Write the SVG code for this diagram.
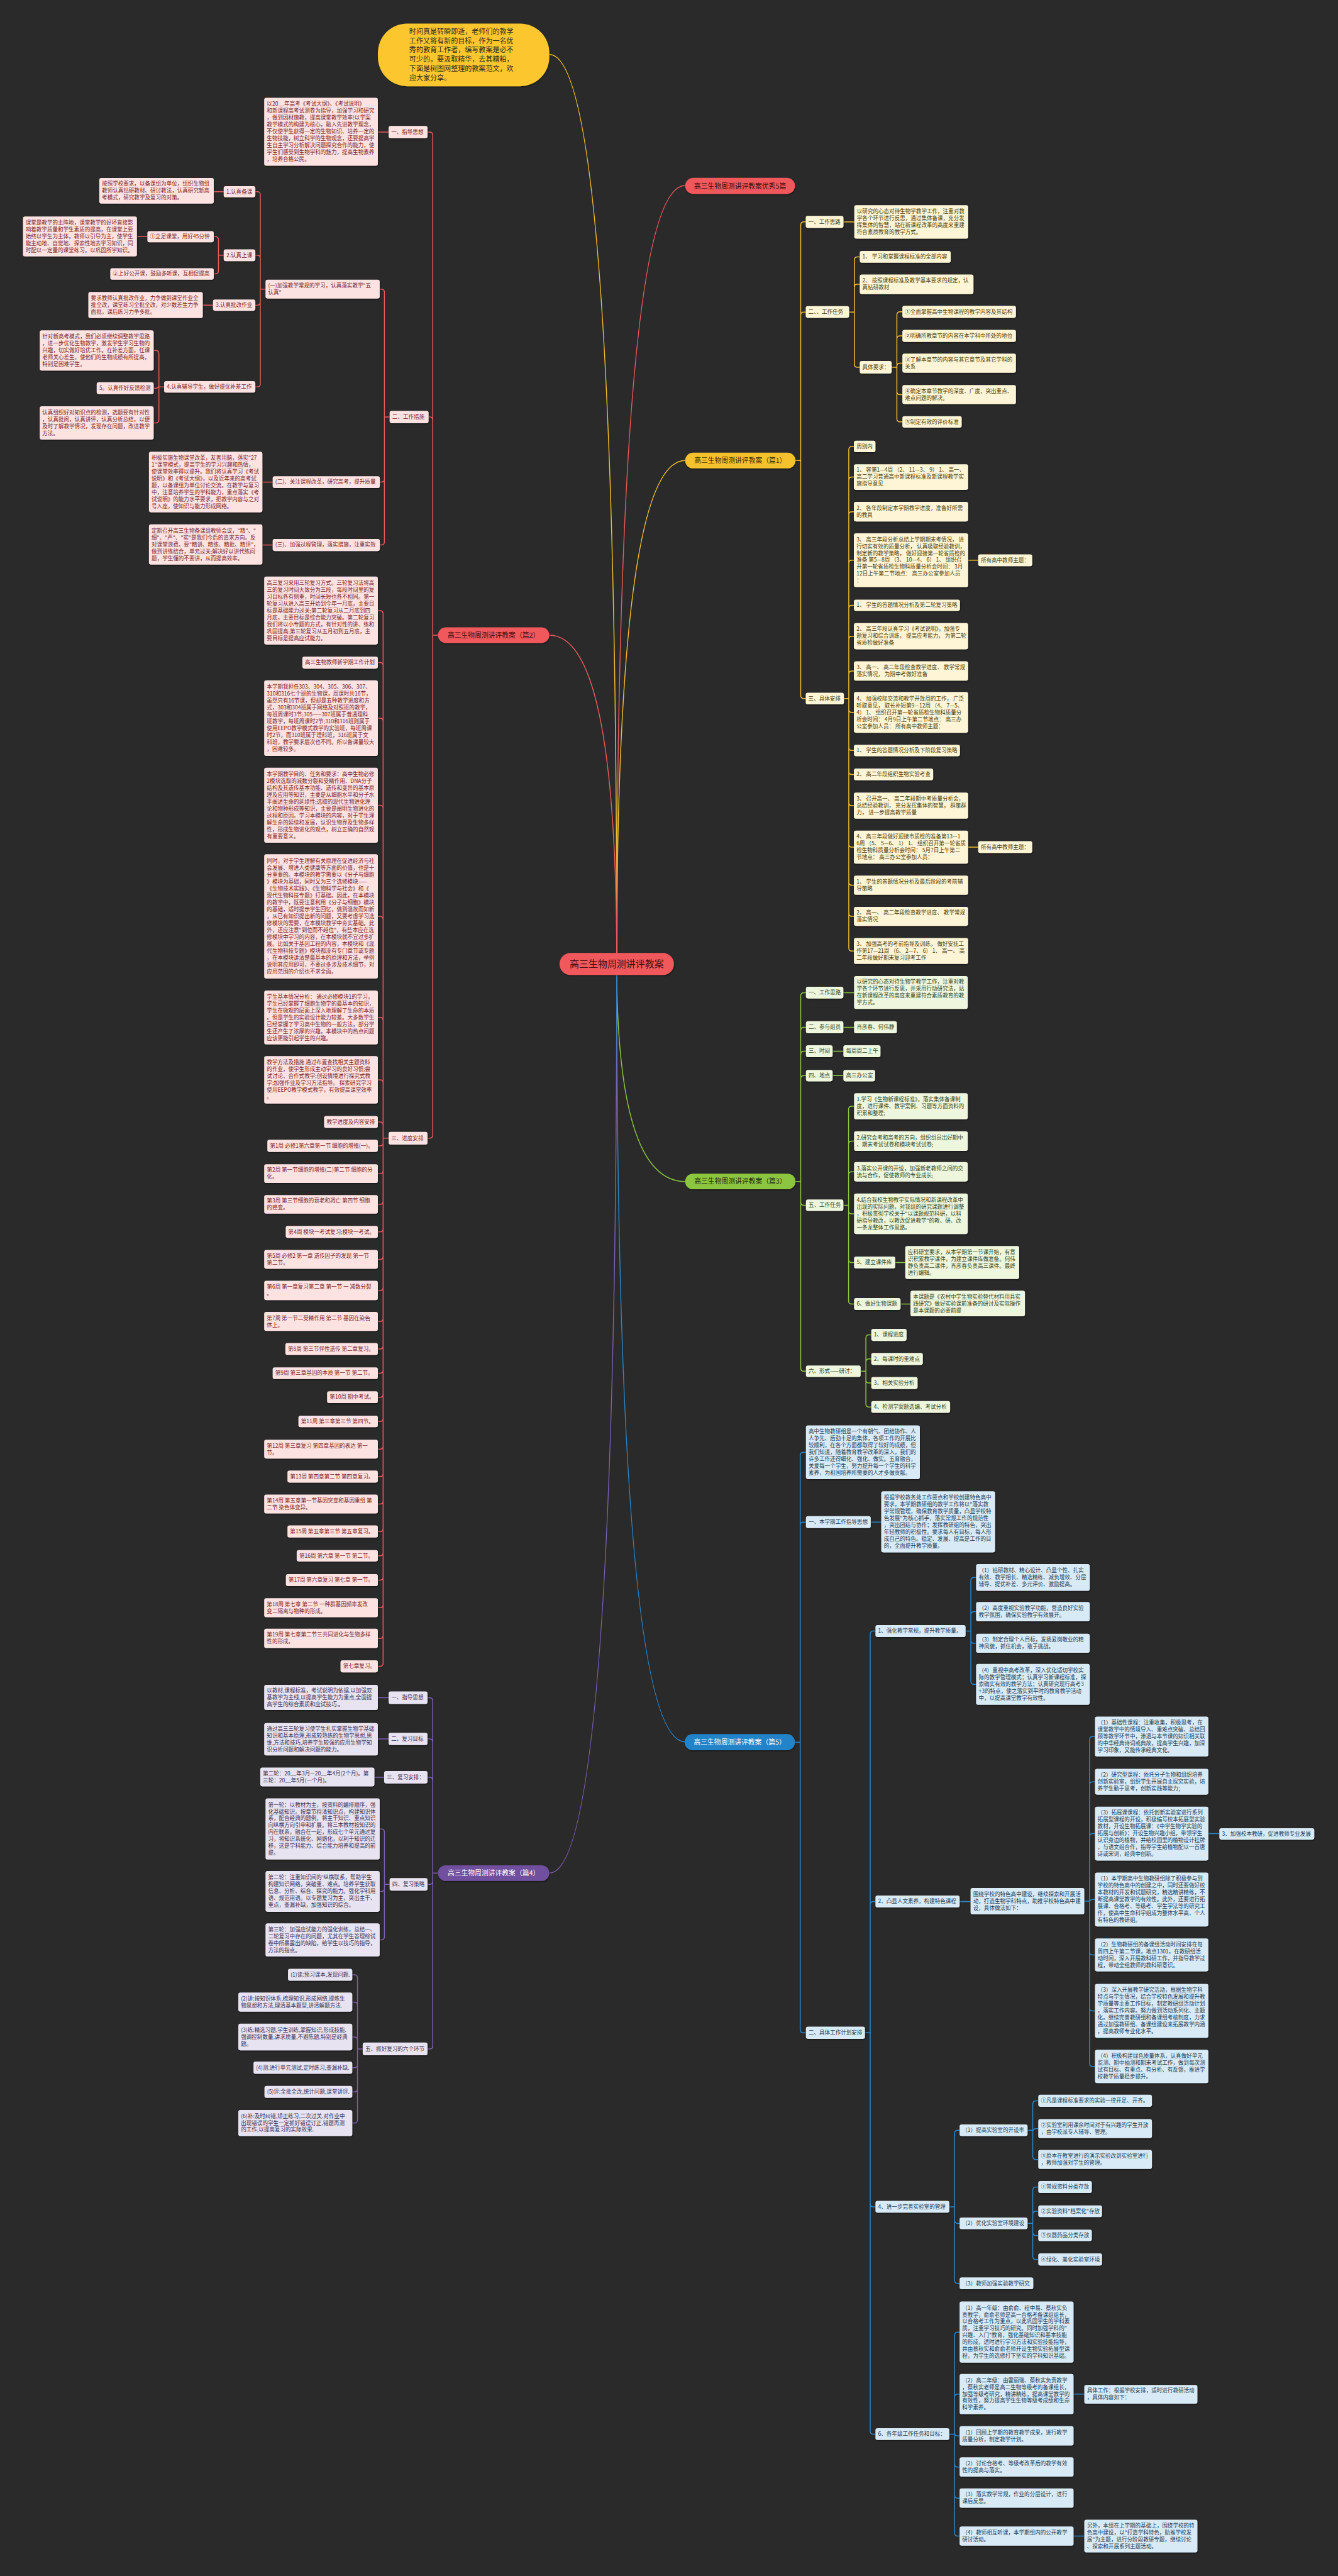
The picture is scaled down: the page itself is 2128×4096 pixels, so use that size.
<svg xmlns="http://www.w3.org/2000/svg" width="2128" height="4096" viewBox="0 0 2128 4096">
<defs>
<filter id="sh" x="-10%" y="-10%" width="120%" height="130%"><feDropShadow dx="1" dy="1.6" stdDeviation="1" flood-color="#000" flood-opacity="0.5"/></filter>
</defs>
<style>
text{font-family:"Noto Sans CJK SC","Noto Sans",sans-serif;font-size:10.3px}
.nr rect,.ny rect,.ng rect,.nb rect,.np rect,.b rect{filter:url(#sh)}
.nr rect{fill:#fde2e2}.nr text{fill:#7a1f1f}
.ny rect{fill:#fdf5d5}.ny text{fill:#4d3b05}
.ng rect{fill:#eef6dd}.ng text{fill:#34461b}
.nb rect{fill:#d8eaf6}.nb text{fill:#1b3b55}
.np rect{fill:#e7e3f0}.np text{fill:#3b2f55}
.b text{font-size:13px;text-anchor:middle}
.ln{fill:none;stroke-width:1.8}
.lr{stroke:#e8595d}.ly{stroke:#efbf2c}.lg{stroke:#8cc63f}.lb{stroke:#2a86c8}.lp{stroke:#7d5fb0}
</style>
<rect width="2128" height="4096" fill="#2a2a2a"/>
<g transform="scale(0.83125)">
<g id="connectors">
<path class="ln ly" d="M1180 1844Q1180 104 1051 104"/>
<path class="ln lr" d="M1180 1844Q1180 355 1311 355"/>
<path class="ln ly" d="M1180 1844Q1180 881 1311 881"/>
<path class="ln lr" d="M1180 1844Q1180 1215 1051 1215"/>
<path class="ln lg" d="M1180 1844Q1180 2260 1311 2260"/>
<path class="ln lp" d="M1180 1844Q1180 3583 1051 3583"/>
<path class="ln lb" d="M1180 1844Q1180 3332 1311 3332"/>
<path class="ln lr" d="M838 1215H828M828 258.7V2171.2M828 258.7Q828 252.7 822 252.7H818M828 803.7Q828 797.7 822 797.7H820M828 2171.2Q828 2177.2 822 2177.2H818"/>
<path class="ln lr" d="M743.5 252.6H723"/>
<path class="ln lr" d="M745.5 797.7H735.5M735.5 559V1036.5M735.5 559Q735.5 553 729.5 553H726.5M735.5 916.2Q735.5 922.2 729.5 922.2H726.5M735.5 1036.5Q735.5 1042.5 729.5 1042.5H726.5"/>
<path class="ln lr" d="M508 553H498M498 372.7V734M498 372.7Q498 366.7 492 366.7H488.5M498 494.2Q498 488.2 492 488.2H488.5M498 577.7Q498 583.7 492 583.7H488.5M498 734Q498 740 492 740H488.5"/>
<path class="ln lr" d="M428 366.7H409"/>
<path class="ln lr" d="M428 488.2H418M418 458.7V518M418 458.7Q418 452.7 412 452.7H409M418 518Q418 524 412 524H409"/>
<path class="ln lr" d="M282 452.5H262"/>
<path class="ln lr" d="M407.5 583.7H388"/>
<path class="ln lr" d="M314 740H304M304 676.5V803M304 676.5Q304 670.5 298 670.5H294M304 736.5Q304 742.5 298 742.5H294M304 803Q304 809 298 809H294"/>
<path class="ln lr" d="M521.7 922.2H502"/>
<path class="ln lr" d="M521.7 1042.5H502"/>
<path class="ln lr" d="M743.5 2177.2H733M733 1174V3181.5M733 1174Q733 1168 727 1168H723M733 1273.5Q733 1267.5 727 1267.5H723M733 1379.8Q733 1373.8 727 1373.8H723M733 1546.3Q733 1540.3 727 1540.3H723M733 1759Q733 1753 727 1753H723M733 1952.3Q733 1946.3 727 1946.3H723M733 2071.5Q733 2065.5 727 2065.5H723M733 2152.1Q733 2146.1 727 2146.1H723M733 2185.8Q733 2191.8 727 2191.8H723M733 2239Q733 2245 727 2245H723M733 2297.8Q733 2303.8 727 2303.8H723M733 2350.5Q733 2356.5 727 2356.5H723M733 2403Q733 2409 727 2409H723M733 2462.5Q733 2468.5 727 2468.5H723M733 2521.8Q733 2527.8 727 2527.8H723M733 2574.5Q733 2580.5 727 2580.5H723M733 2620.8Q733 2626.8 727 2626.8H723M733 2666.7Q733 2672.7 727 2672.7H723M733 2713Q733 2719 727 2719H723M733 2766Q733 2772 727 2772H723M733 2818.5Q733 2824.5 727 2824.5H723M733 2871Q733 2877 727 2877H723M733 2923.5Q733 2929.5 727 2929.5H723M733 2970Q733 2976 727 2976H723M733 3016.5Q733 3022.5 727 3022.5H723M733 3069.3Q733 3075.3 727 3075.3H723M733 3128Q733 3134 727 3134H723M733 3181.5Q733 3187.5 727 3187.5H723"/>
<path class="ln lp" d="M838 3583H828M828 3253.5V3913.3M828 3253.5Q828 3247.5 822 3247.5H818M828 3332.4Q828 3326.4 822 3326.4H818M828 3405.6Q828 3399.6 822 3399.6H818M828 3598.5Q828 3604.5 822 3604.5H818M828 3913.3Q828 3919.3 822 3919.3H818"/>
<path class="ln lp" d="M743.5 3247.5H723M743.5 3326.4H723M735 3399.6H716.4"/>
<path class="ln lp" d="M745.5 3604.5H735.5M735.5 3504.5V3704.8M735.5 3504.5Q735.5 3498.5 729.5 3498.5H726.5M735.5 3612Q735.5 3618 729.5 3618H726.5M735.5 3704.8Q735.5 3710.8 729.5 3710.8H726.5"/>
<path class="ln lp" d="M694 3919.3H684M684 3783.5V4055M684 3783.5Q684 3777.5 678 3777.5H674M684 3835.8Q684 3829.8 678 3829.8H674M684 3902.5Q684 3896.5 678 3896.5H674M684 3949.3Q684 3955.3 678 3955.3H674M684 3995.5Q684 4001.5 678 4001.5H674M684 4055Q684 4061 678 4061H674"/>
<path class="ln ly" d="M1522 881H1532M1532 430.5V1330.3M1532 430.5Q1532 424.5 1538 424.5H1541.6M1532 602.9Q1532 596.9 1538 596.9H1541.6M1532 1330.3Q1532 1336.3 1538 1336.3H1541.6"/>
<path class="ln ly" d="M1613.8 424.5H1634.5"/>
<path class="ln ly" d="M1624.6 596.9H1634.6M1634.6 497.3V696.6M1634.6 497.3Q1634.6 491.3 1640.6 491.3H1645M1634.6 549.8Q1634.6 543.8 1640.6 543.8H1645M1634.6 696.6Q1634.6 702.6 1640.6 702.6H1645"/>
<path class="ln ly" d="M1706 702.6H1716M1716 602.5V801M1716 602.5Q1716 596.5 1722 596.5H1726.5M1716 648.5Q1716 642.5 1722 642.5H1726.5M1716 700.8Q1716 694.8 1722 694.8H1726.5M1716 748.8Q1716 754.8 1722 754.8H1726.5M1716 801Q1716 807 1722 807H1726.5"/>
<path class="ln ly" d="M1614.6 1336.3H1624M1624 860V1813.2M1624 860Q1624 854 1630 854H1633.7M1624 918.5Q1624 912.5 1630 912.5H1633.7M1624 984.8Q1624 978.8 1630 978.8H1633.7M1624 1077.5Q1624 1071.5 1630 1071.5H1633.7M1624 1163.8Q1624 1157.8 1630 1157.8H1633.7M1624 1223Q1624 1217 1630 1217H1633.7M1624 1289.5Q1624 1283.5 1630 1283.5H1633.7M1624 1356.7Q1624 1362.7 1630 1362.7H1633.7M1624 1429.6Q1624 1435.6 1630 1435.6H1633.7M1624 1475.4Q1624 1481.4 1630 1481.4H1633.7M1624 1535Q1624 1541 1630 1541H1633.7M1624 1614.5Q1624 1620.5 1630 1620.5H1633.7M1624 1687.3Q1624 1693.3 1630 1693.3H1633.7M1624 1746.9Q1624 1752.9 1630 1752.9H1633.7M1624 1813.2Q1624 1819.2 1630 1819.2H1633.7"/>
<path class="ln ly" d="M1852.4 1071.5H1871.6M1852.4 1620.5H1871.6"/>
<path class="ln lg" d="M1522 2260H1532M1532 1904.8V2617M1532 1904.8Q1532 1898.8 1538 1898.8H1542M1532 1971Q1532 1965 1538 1965H1542M1532 2016.9Q1532 2010.9 1538 2010.9H1542M1532 2063.5Q1532 2057.5 1538 2057.5H1542M1532 2299.5Q1532 2305.5 1538 2305.5H1542M1532 2617Q1532 2623 1538 2623H1542"/>
<path class="ln lg" d="M1613.6 1898.8H1634M1613.6 1965H1634M1593 2010.9H1613.6M1593 2057.5H1613.6"/>
<path class="ln lg" d="M1613.6 2305.5H1623.6M1623.6 2122V2488.5M1623.6 2122Q1623.6 2116 1629.6 2116H1634M1623.6 2188.8Q1623.6 2182.8 1629.6 2182.8H1634M1623.6 2247.5Q1623.6 2241.5 1629.6 2241.5H1634M1623.6 2315.8Q1623.6 2321.8 1629.6 2321.8H1634M1623.6 2409Q1623.6 2415 1629.6 2415H1634M1623.6 2488.5Q1623.6 2494.5 1629.6 2494.5H1634"/>
<path class="ln lg" d="M1713 2415H1732M1723 2494.5H1742"/>
<path class="ln lg" d="M1646.7 2623H1656.7M1656.7 2559.5V2685.3M1656.7 2559.5Q1656.7 2553.5 1662.7 2553.5H1667M1656.7 2605.5Q1656.7 2599.5 1662.7 2599.5H1667M1656.7 2639.5Q1656.7 2645.5 1662.7 2645.5H1667M1656.7 2685.3Q1656.7 2691.3 1662.7 2691.3H1667"/>
<path class="ln lb" d="M1521 3332.5H1531M1531 2784V3882.3M1531 2784Q1531 2778 1537 2778H1542M1531 2917.5Q1531 2911.5 1537 2911.5H1542M1531 3882.3Q1531 3888.3 1537 3888.3H1542"/>
<path class="ln lb" d="M1666 2911.5H1686"/>
<path class="ln lb" d="M1655 3888.3H1665M1665 3126V4650.1M1665 3126Q1665 3120 1671 3120H1675M1665 3643.4Q1665 3637.4 1671 3637.4H1675M1665 4215.3Q1665 4221.3 1671 4221.3H1675M1665 4650.1Q1665 4656.1 1671 4656.1H1675"/>
<path class="ln lb" d="M1847.5 3120H1857.5M1857.5 3023.5V3216M1857.5 3023.5Q1857.5 3017.5 1863.5 3017.5H1867.5M1857.5 3089Q1857.5 3083 1863.5 3083H1867.5M1857.5 3137.3Q1857.5 3143.3 1863.5 3143.3H1867.5M1857.5 3216Q1857.5 3222 1863.5 3222H1867.5"/>
<path class="ln lb" d="M1836 3637.4H1857"/>
<path class="ln lb" d="M2074.6 3636.7H2084.6M2084.6 3327.8V3946.9M2084.6 3327.8Q2084.6 3321.8 2090.6 3321.8H2095M2084.6 3414.3Q2084.6 3408.3 2090.6 3408.3H2095M2084.6 3513.4Q2084.6 3507.4 2090.6 3507.4H2095M2084.6 3639.5Q2084.6 3633.5 2090.6 3633.5H2095M2084.6 3733.5Q2084.6 3739.5 2090.6 3739.5H2095M2084.6 3840.5Q2084.6 3846.5 2090.6 3846.5H2095M2084.6 3946.9Q2084.6 3952.9 2090.6 3952.9H2095"/>
<path class="ln lb" d="M2312 3507.4H2333"/>
<path class="ln lb" d="M1816.4 4221.3H1826.4M1826.4 4080.9V4361.8M1826.4 4080.9Q1826.4 4074.9 1832.4 4074.9H1836M1826.4 4246.9Q1826.4 4252.9 1832.4 4252.9H1836M1826.4 4361.8Q1826.4 4367.8 1832.4 4367.8H1836"/>
<path class="ln lb" d="M1966 4074.9H1976M1976 4024.5V4124.8M1976 4024.5Q1976 4018.5 1982 4018.5H1986.5M1976 4077.8Q1976 4071.8 1982 4071.8H1986.5M1976 4124.8Q1976 4130.8 1982 4130.8H1986.5"/>
<path class="ln lb" d="M1966 4252.9H1976M1976 4189.5V4316.1M1976 4189.5Q1976 4183.5 1982 4183.5H1986.5M1976 4235.8Q1976 4229.8 1982 4229.8H1986.5M1976 4270Q1976 4276 1982 4276H1986.5M1976 4316.1Q1976 4322.1 1982 4322.1H1986.5"/>
<path class="ln lb" d="M1816.4 4656.1H1826.4M1826.4 4467V4845.2M1826.4 4467Q1826.4 4461 1832.4 4461H1836M1826.4 4585.5Q1826.4 4579.5 1832.4 4579.5H1836M1826.4 4653.5Q1826.4 4659.5 1832.4 4659.5H1836M1826.4 4713Q1826.4 4719 1832.4 4719H1836M1826.4 4772.5Q1826.4 4778.5 1832.4 4778.5H1836M1826.4 4845.2Q1826.4 4851.2 1832.4 4851.2H1836"/>
<path class="ln lb" d="M2054 4579.5H2074.6M2054 4851.2H2074.6"/>
</g>

<g id="intro"><rect x="723" y="45" width="328" height="120" rx="56" fill="#fcc62f" filter="url(#sh)"/>
<text x="783" y="65" style="font-size:13.3px" fill="#2d2a1e"><tspan x="783">时间真是转瞬即逝，老师们的教学</tspan><tspan x="783" dy="17.7">工作又将有新的目标，作为一名优</tspan><tspan x="783" dy="17.7">秀的教育工作者，编写教案是必不</tspan><tspan x="783" dy="17.7">可少的，要汲取精华，去其糟粕，</tspan><tspan x="783" dy="17.7">下面是树图网整理的教案范文，欢</tspan><tspan x="783" dy="17.7">迎大家分享。</tspan></text></g>

<g id="center"><rect x="1070.5" y="1823" width="219" height="42" rx="21" fill="#f0585c" filter="url(#sh)"/><text x="1180" y="1850.5" style="font-size:18px" text-anchor="middle" fill="#3a0d0d">高三生物周测讲评教案</text></g>

<g id="b0" class="b"><rect x="1311" y="340" width="210" height="31" rx="15.5" fill="#f0585c"/><text x="1416" y="360.5" fill="#3a0d0d">高三生物周测讲评教案优秀5篇</text></g>
<g id="b1" class="b"><rect x="1311" y="866" width="211" height="30" rx="15" fill="#f5c12e"/><text x="1416.5" y="885.5" fill="#3d2e00">高三生物周测讲评教案（篇1）</text></g>
<g id="b2" class="b"><rect x="838" y="1200" width="213" height="30" rx="15" fill="#f0585c"/><text x="944.5" y="1219.5" fill="#4a0f0f">高三生物周测讲评教案（篇2）</text></g>
<g id="b3" class="b"><rect x="1311" y="2245" width="211" height="30" rx="15" fill="#8cc63f"/><text x="1416.5" y="2264.5" fill="#1f2e0c">高三生物周测讲评教案（篇3）</text></g>
<g id="b4" class="b"><rect x="838" y="3568" width="213" height="30" rx="15" fill="#6f4f9e"/><text x="944.5" y="3587.5" fill="#ffffff">高三生物周测讲评教案（篇4）</text></g>
<g id="b5" class="b"><rect x="1310" y="3317" width="211" height="31" rx="15.5" fill="#2383c8"/><text x="1415.5" y="3337" fill="#ffffff">高三生物周测讲评教案（篇5）</text></g>

<!-- 篇2 -->
<g id="a1" class="nr"><rect x="743.5" y="241" width="74.5" height="23.5" rx="4"/><text x="748.5" y="256.2">一、指导思想</text></g>
<g id="a1L" class="nr"><rect x="505.5" y="187" width="217.5" height="130" rx="4"/><text x="510.5" y="202.6"><tspan x="510.5">以20__年高考《考试大纲》、《考试说明》</tspan><tspan x="510.5" dy="13.2">和新课程高考试测卷为指导，加强学习和研究</tspan><tspan x="510.5" dy="13.2">，做到因材施教，提高课堂教学效率!以学案</tspan><tspan x="510.5" dy="13.2">教学模式的构建为核心，融入先进教学理念，</tspan><tspan x="510.5" dy="13.2">不仅使学生获得一定的生物知识、培养一定的</tspan><tspan x="510.5" dy="13.2">生物技能，树立科学的生物观念，还要提高学</tspan><tspan x="510.5" dy="13.2">生自主学习分析解决问题探究合作的能力，使</tspan><tspan x="510.5" dy="13.2">学生们感受到生物学科的魅力，提高生物素养</tspan><tspan x="510.5" dy="13.2">，培养合格公民。</tspan></text></g>
<g id="a2" class="nr"><rect x="745.5" y="786" width="74.5" height="23.5" rx="4"/><text x="750.5" y="801">二、工作措施</text></g>
<g id="a2a" class="nr"><rect x="508" y="535" width="218.5" height="36" rx="4"/><text x="513" y="549.8"><tspan x="513">(一)加强教学常规的学习，认真落实教学"五</tspan><tspan x="513" dy="13.2">认真"</tspan></text></g>
<g id="a2a1" class="nr"><rect x="428" y="356" width="60.5" height="21.5" rx="4"/><text x="433" y="370.2">1.认真备课</text></g>
<g id="a2a1L" class="nr"><rect x="190" y="340.5" width="219" height="49" rx="4"/><text x="195" y="355.2"><tspan x="195">按照学校要求，以备课组为单位，组织生物组</tspan><tspan x="195" dy="13.2">教师认真钻研教材、研讨教法，认真研究新高</tspan><tspan x="195" dy="13.2">考模式，研究教学及复习的对策。</tspan></text></g>
<g id="a2a2" class="nr"><rect x="428" y="477" width="60.5" height="22.5" rx="4"/><text x="433" y="491.7">2.认真上课</text></g>
<g id="a2a2a" class="nr"><rect x="282" y="442" width="127" height="21.5" rx="4"/><text x="287" y="456.2">①立足课堂，用好45分钟</text></g>
<g id="a2a2aL" class="nr"><rect x="44" y="414" width="218" height="76.5" rx="4"/><text x="49" y="429.2"><tspan x="49">课堂是教学的主阵地，课堂教学的好坏直接影</tspan><tspan x="49" dy="13.2">响着教学质量和学生素质的提高，在课堂上要</tspan><tspan x="49" dy="13.2">始终以学生为主体，教师以引导为主，使学生</tspan><tspan x="49" dy="13.2">能主动地、自觉地、探索性地去学习知识，同</tspan><tspan x="49" dy="13.2">时配以一定量的课堂练习，以巩固所学知识。</tspan></text></g>
<g id="a2a2b" class="nr"><rect x="211" y="513" width="198" height="22" rx="4"/><text x="216" y="527.4">②上好公开课，鼓励多听课，互相促提高</text></g>
<g id="a2a3" class="nr"><rect x="407.5" y="573" width="81" height="21.5" rx="4"/><text x="412.5" y="587.2">3.认真批改作业</text></g>
<g id="a2a3L" class="nr"><rect x="169" y="558.5" width="219" height="50" rx="4"/><text x="174" y="573.7"><tspan x="174">要求教师认真批改作业，力争做到课堂作业全</tspan><tspan x="174" dy="13.2">批全改，课堂练习全批全改，对少数差生力争</tspan><tspan x="174" dy="13.2">面批，课后练习力争多批。</tspan></text></g>
<g id="a2a4" class="nr"><rect x="314" y="729" width="174.5" height="22" rx="4"/><text x="319" y="743.4">4.认真辅导学生，做好提优补差工作</text></g>
<g id="a2a4a" class="nr"><rect x="76" y="632" width="218" height="77" rx="4"/><text x="81" y="647.5"><tspan x="81">针对新高考模式，我们必须继续调整教学思路</tspan><tspan x="81" dy="13.2">，进一步优化生物教学，激发学生学习生物的</tspan><tspan x="81" dy="13.2">兴趣，切实做好培优工作。在补差方面，任课</tspan><tspan x="81" dy="13.2">老师关心差生，使他们的生物成绩有所提高，</tspan><tspan x="81" dy="13.2">特别是困难学生。</tspan></text></g>
<g id="a2a4b" class="nr"><rect x="185" y="731" width="109" height="23" rx="4"/><text x="190" y="745.9">5。认真作好反馈检测</text></g>
<g id="a2a4c" class="nr"><rect x="76" y="777" width="218" height="64" rx="4"/><text x="81" y="792.6"><tspan x="81">认真组织好对知识点的检测，选题要有针对性</tspan><tspan x="81" dy="13.2">，认真批阅，认真讲评，认真分析总结，以便</tspan><tspan x="81" dy="13.2">及时了解教学情况，发现存在问题，改进教学</tspan><tspan x="81" dy="13.2">方法。</tspan></text></g>
<g id="a2b" class="nr"><rect x="521.7" y="911" width="205" height="22.5" rx="4"/><text x="526.7" y="925.7">(二)、关注课程改革，研究高考，提升质量</text></g>
<g id="a2bL" class="nr"><rect x="285" y="864" width="217" height="116" rx="4"/><text x="290" y="879.2"><tspan x="290">积极实施生物课堂改革，友善用脑，落实"27</tspan><tspan x="290" dy="13.2">1"课堂模式，提高学生的学习兴趣和热情，</tspan><tspan x="290" dy="13.2">使课堂效率得以提升。我们将认真学习《考试</tspan><tspan x="290" dy="13.2">说明》和《考试大纲》，以及近年来的高考试</tspan><tspan x="290" dy="13.2">题，以备课组为单位讨论交流。在教学与复习</tspan><tspan x="290" dy="13.2">中，注意培养学生的学科能力，重点落实《考</tspan><tspan x="290" dy="13.2">试说明》的能力水平要求，把教学内容与之对</tspan><tspan x="290" dy="13.2">号入座，使知识与能力形成网络。</tspan></text></g>
<g id="a2c" class="nr"><rect x="521.7" y="1031" width="205" height="23" rx="4"/><text x="526.7" y="1045.9">(三)、加强过程管理，落实措施，注重实效</text></g>
<g id="a2cL" class="nr"><rect x="285" y="1003" width="217" height="77" rx="4"/><text x="290" y="1018.5"><tspan x="290">定期召开高三生物备课组教师会议，"精"、"</tspan><tspan x="290" dy="13.2">细"、"严"、"实"是我们今后的追求方向。反</tspan><tspan x="290" dy="13.2">对课堂浪费。要"精讲、精练、精批、精评"，</tspan><tspan x="290" dy="13.2">做到讲练结合，单元过关;解决好以讲代练问</tspan><tspan x="290" dy="13.2">题，学生懂的不要讲，从而提高效率。</tspan></text></g>
<g id="a3" class="nr"><rect x="743.5" y="2165" width="74.5" height="24.5" rx="4"/><text x="748.5" y="2180.7">三、进度安排</text></g>
<g id="c1" class="nr"><rect x="505.5" y="1103" width="217.5" height="130" rx="4"/><text x="510.5" y="1118.6"><tspan x="510.5">高三复习采用三轮复习方式。三轮复习法将高</tspan><tspan x="510.5" dy="13.2">三的复习时间大致分为三段，每段时间里的复</tspan><tspan x="510.5" dy="13.2">习目标各有侧重，时间长短也各不相同。第一</tspan><tspan x="510.5" dy="13.2">轮复习从进入高三开始到今年一月底，主要目</tspan><tspan x="510.5" dy="13.2">标是基础能力过关;第二轮复习从二月底到四</tspan><tspan x="510.5" dy="13.2">月底，主要目标是综合能力突破。第二轮复习</tspan><tspan x="510.5" dy="13.2">我们将以小专题的方式，有针对性的讲、练和</tspan><tspan x="510.5" dy="13.2">巩固提高;第三轮复习从五月初到五月底，主</tspan><tspan x="510.5" dy="13.2">要目标是提高应试能力。</tspan></text></g>
<g id="c2" class="nr"><rect x="578.5" y="1256" width="144.5" height="23" rx="4"/><text x="583.5" y="1270.9">高三生物教师新学期工作计划</text></g>
<g id="c3" class="nr"><rect x="505.5" y="1301.5" width="217.5" height="144.5" rx="4"/><text x="510.5" y="1317.8"><tspan x="510.5">本学期我担任303、304、305、306、307、</tspan><tspan x="510.5" dy="13.2">310和316七个班的生物课，周课时共16节，</tspan><tspan x="510.5" dy="13.2">虽然只有16节课，但却是五种教学进度和方</tspan><tspan x="510.5" dy="13.2">式，303和304班属于网络及对照班的教学，</tspan><tspan x="510.5" dy="13.2">每班周课时3节;305——307班属于普通理科</tspan><tspan x="510.5" dy="13.2">班教学，每班周课时2节;310和316班则属于</tspan><tspan x="510.5" dy="13.2">使用EEPO教学模式教学的实验班，每班周课</tspan><tspan x="510.5" dy="13.2">时2节，而310班属于理科班，316班属于文</tspan><tspan x="510.5" dy="13.2">科班，教学要求层次也不同。所以备课量较大</tspan><tspan x="510.5" dy="13.2">，困难较多。</tspan></text></g>
<g id="c4" class="nr"><rect x="505.5" y="1468.6" width="217.5" height="143.4" rx="4"/><text x="510.5" y="1484.3"><tspan x="510.5">本学期教学目的、任务和要求：高中生物必修</tspan><tspan x="510.5" dy="13.2">2模块选取的减数分裂和受精作用、DNA分子</tspan><tspan x="510.5" dy="13.2">结构及其遗传基本功能、遗传和变异的基本原</tspan><tspan x="510.5" dy="13.2">理及应用等知识，主要是从细胞水平和分子水</tspan><tspan x="510.5" dy="13.2">平阐述生命的延续性;选取的现代生物进化理</tspan><tspan x="510.5" dy="13.2">论和物种形成等知识，主要是阐明生物进化的</tspan><tspan x="510.5" dy="13.2">过程和原因。学习本模块的内容，对于学生理</tspan><tspan x="510.5" dy="13.2">解生命的延续和发展，认识生物界及生物多样</tspan><tspan x="510.5" dy="13.2">性，形成生物进化的观点，树立正确的自然观</tspan><tspan x="510.5" dy="13.2">有重要意义。</tspan></text></g>
<g id="c5" class="nr"><rect x="505.5" y="1634" width="217.5" height="238" rx="4"/><text x="510.5" y="1650.8"><tspan x="510.5">同时，对于学生理解有关原理在促进经济与社</tspan><tspan x="510.5" dy="13.2">会发展、增进人类健康等方面的价值，也是十</tspan><tspan x="510.5" dy="13.2">分重要的。本模块的教学需要以《分子与细胞</tspan><tspan x="510.5" dy="13.2">》模块为基础，同时又为三个选修模块——</tspan><tspan x="510.5" dy="13.2">《生物技术实践》、《生物科学与社会》和《</tspan><tspan x="510.5" dy="13.2">现代生物科技专题》打基础。因此，在本模块</tspan><tspan x="510.5" dy="13.2">的教学中，既要注意利用《分子与细胞》模块</tspan><tspan x="510.5" dy="13.2">的基础，适时提示学生回忆，做到温故而知新</tspan><tspan x="510.5" dy="13.2">，从已有知识提出新的问题，又要考虑学习选</tspan><tspan x="510.5" dy="13.2">修模块的需要，在本模块教学中夯实基础。此</tspan><tspan x="510.5" dy="13.2">外，还应注意"到位而不越位"，有些本应在选</tspan><tspan x="510.5" dy="13.2">修模块中学习的内容，在本模块就不宜过多扩</tspan><tspan x="510.5" dy="13.2">展。比如关于基因工程的内容，本模块和《现</tspan><tspan x="510.5" dy="13.2">代生物科技专题》模块都没有专门章节或专题</tspan><tspan x="510.5" dy="13.2">，在本模块讲清楚最基本的原理和方法，举例</tspan><tspan x="510.5" dy="13.2">说明其应用即可，不要过多涉及技术细节，对</tspan><tspan x="510.5" dy="13.2">应用范围的介绍也不求全面。</tspan></text></g>
<g id="c6" class="nr"><rect x="505.5" y="1894.6" width="217.5" height="103.4" rx="4"/><text x="510.5" y="1910.1"><tspan x="510.5">学生基本情况分析： 通过必修模块1的学习，</tspan><tspan x="510.5" dy="13.2">学生已经掌握了细胞生物学的最基本的知识，</tspan><tspan x="510.5" dy="13.2">学生在微观的层面上深入地理解了生命的本质</tspan><tspan x="510.5" dy="13.2">。但是学生的实验设计能力较差。大多数学生</tspan><tspan x="510.5" dy="13.2">已经掌握了学习高中生物的一般方法，部分学</tspan><tspan x="510.5" dy="13.2">生还产生了浓厚的兴趣，本模块中的热点问题</tspan><tspan x="510.5" dy="13.2">应该更能引起学生的兴趣。</tspan></text></g>
<g id="c7" class="nr"><rect x="505.5" y="2020" width="217.5" height="91" rx="4"/><text x="510.5" y="2035.9"><tspan x="510.5">教学方法及措施 通过布置查找相关主题资料</tspan><tspan x="510.5" dy="13.2">的作业，使学生形成主动学习的良好习惯;尝</tspan><tspan x="510.5" dy="13.2">试讨论、合作式教学;创设情境进行探究式教</tspan><tspan x="510.5" dy="13.2">学;加强作业及学习方法指导。 探索研究学习</tspan><tspan x="510.5" dy="13.2">使用EEPO教学模式教学，有效提高课堂效率</tspan><tspan x="510.5" dy="13.2">。</tspan></text></g>
<g id="c8" class="nr"><rect x="620" y="2134.6" width="103" height="23" rx="4"/><text x="625" y="2149.5">教学进度及内容安排</text></g>
<g id="c9" class="nr"><rect x="511.5" y="2180" width="211.5" height="23.5" rx="4"/><text x="516.5" y="2195.2">第1周 必修1第六章第一节 细胞的增殖(一)。</text></g>
<g id="c10" class="nr"><rect x="505.5" y="2227" width="217.5" height="36" rx="4"/><text x="510.5" y="2241.8"><tspan x="510.5">第2周 第一节细胞的增殖(二)第二节 细胞的分</tspan><tspan x="510.5" dy="13.2">化。</tspan></text></g>
<g id="c11" class="nr"><rect x="505.5" y="2286" width="217.5" height="35.5" rx="4"/><text x="510.5" y="2300.5"><tspan x="510.5">第3周 第三节细胞的衰老和凋亡 第四节 细胞</tspan><tspan x="510.5" dy="13.2">的癌变。</tspan></text></g>
<g id="c12" class="nr"><rect x="546.7" y="2345" width="176.3" height="23" rx="4"/><text x="551.7" y="2359.9">第4周 模块一考试复习;模块一考试。</text></g>
<g id="c13" class="nr"><rect x="505.5" y="2391" width="217.5" height="36" rx="4"/><text x="510.5" y="2405.8"><tspan x="510.5">第5周 必修2 第一章 遗传因子的发现 第一节</tspan><tspan x="510.5" dy="13.2">第二节。</tspan></text></g>
<g id="c14" class="nr"><rect x="505.5" y="2450" width="217.5" height="37" rx="4"/><text x="510.5" y="2465.3"><tspan x="510.5">第6周 第一章复习第二章 第一节 一 减数分裂</tspan><tspan x="510.5" dy="13.2">。</tspan></text></g>
<g id="c15" class="nr"><rect x="505.5" y="2509.6" width="217.5" height="36.4" rx="4"/><text x="510.5" y="2524.6"><tspan x="510.5">第7周 第一节二受精作用 第二节 基因在染色</tspan><tspan x="510.5" dy="13.2">体上。</tspan></text></g>
<g id="c16" class="nr"><rect x="546" y="2569" width="177" height="23" rx="4"/><text x="551" y="2583.9">第8周 第三节伴性遗传 第二章复习。</text></g>
<g id="c17" class="nr"><rect x="521.7" y="2615.5" width="201.3" height="22.5" rx="4"/><text x="526.7" y="2630.2">第9周 第三章基因的本质 第一节 第二节。</text></g>
<g id="c18" class="nr"><rect x="625.8" y="2661.4" width="97.2" height="22.6" rx="4"/><text x="630.8" y="2676.1">第10周 期中考试。</text></g>
<g id="c19" class="nr"><rect x="571" y="2708" width="152" height="22" rx="4"/><text x="576" y="2722.4">第11周 第三章第三节 第四节。</text></g>
<g id="c20" class="nr"><rect x="505.5" y="2754" width="217.5" height="36" rx="4"/><text x="510.5" y="2768.8"><tspan x="510.5">第12周 第三章复习 第四章基因的表达 第一</tspan><tspan x="510.5" dy="13.2">节。</tspan></text></g>
<g id="c21" class="nr"><rect x="550" y="2813" width="173" height="23" rx="4"/><text x="555" y="2827.9">第13周 第四章第二节 第四章复习。</text></g>
<g id="c22" class="nr"><rect x="505.5" y="2859" width="217.5" height="36" rx="4"/><text x="510.5" y="2873.8"><tspan x="510.5">第14周 第五章第一节基因突变和基因重组 第</tspan><tspan x="510.5" dy="13.2">二节 染色体变异。</tspan></text></g>
<g id="c23" class="nr"><rect x="550" y="2918" width="173" height="23" rx="4"/><text x="555" y="2932.9">第15周 第五章第三节 第五章复习。</text></g>
<g id="c24" class="nr"><rect x="567.7" y="2965" width="155.3" height="22" rx="4"/><text x="572.7" y="2979.4">第16周 第六章 第一节 第二节。</text></g>
<g id="c25" class="nr"><rect x="547" y="3011" width="176" height="23" rx="4"/><text x="552" y="3025.9">第17周 第六章复习 第七章 第一节。</text></g>
<g id="c26" class="nr"><rect x="505.5" y="3057" width="217.5" height="36.5" rx="4"/><text x="510.5" y="3072"><tspan x="510.5">第18周 第七章 第二节 一种群基因频率发改</tspan><tspan x="510.5" dy="13.2">变二隔离与物种的形成。</tspan></text></g>
<g id="c27" class="nr"><rect x="505.5" y="3115.6" width="217.5" height="36.9" rx="4"/><text x="510.5" y="3130.8"><tspan x="510.5">第19周 第七章第二节三共同进化与生物多样</tspan><tspan x="510.5" dy="13.2">性的形成。</tspan></text></g>
<g id="c28" class="nr"><rect x="651.5" y="3176" width="71.5" height="23" rx="4"/><text x="656.5" y="3190.9">第七章复习。</text></g>

<!-- 篇4 -->
<g id="d1" class="np"><rect x="743.5" y="3235.5" width="74.5" height="24" rx="4"/><text x="748.5" y="3250.9">一、指导思想</text></g>
<g id="d1L" class="np"><rect x="505.5" y="3223" width="217.5" height="48" rx="4"/><text x="510.5" y="3237.2"><tspan x="510.5">以教材,课程标准，考试说明为依据,以加强双</tspan><tspan x="510.5" dy="13.2">基教学为主线,以提高学生能力为重点,全面提</tspan><tspan x="510.5" dy="13.2">高学生的综合素质和应试技巧.。</tspan></text></g>
<g id="d2" class="np"><rect x="743.5" y="3314.6" width="74.5" height="23.5" rx="4"/><text x="748.5" y="3329.8">二、复习目标</text></g>
<g id="d2L" class="np"><rect x="505.5" y="3296" width="217.5" height="62" rx="4"/><text x="510.5" y="3310.6"><tspan x="510.5">通过高三三轮复习使学生扎实掌握生物学基础</tspan><tspan x="510.5" dy="13.2">知识和基本原理,形成较熟练的生物学思想,思</tspan><tspan x="510.5" dy="13.2">维,方法和技巧,培养学生较强的应用生物学知</tspan><tspan x="510.5" dy="13.2">识分析问题和解决问题的能力。</tspan></text></g>
<g id="d3" class="np"><rect x="735" y="3387.6" width="83" height="24" rx="4"/><text x="740" y="3403">三、复习安排：</text></g>
<g id="d3L" class="np"><rect x="498" y="3381" width="218.4" height="36" rx="4"/><text x="503" y="3395.8"><tspan x="503">第二轮：20__年3月—20__年4月(2个月)。第</tspan><tspan x="503" dy="13.2">三轮：20__年5月(一个月)。</tspan></text></g>
<g id="d4" class="np"><rect x="745.5" y="3592.5" width="72.5" height="24" rx="4"/><text x="750.5" y="3607.9">四、复习策略</text></g>
<g id="d4a" class="np"><rect x="508" y="3440" width="218.5" height="117" rx="4"/><text x="513" y="3455.7"><tspan x="513">第一轮：以教材为主，按资料的编排顺序，强</tspan><tspan x="513" dy="13.2">化基础知识。按章节捋清知识点，构建知识体</tspan><tspan x="513" dy="13.2">系，配合经典的题例，将主干知识、重点知识</tspan><tspan x="513" dy="13.2">向纵横方向引申和扩展。将三本教材按知识的</tspan><tspan x="513" dy="13.2">内在联系，融合在一起，形成七个单元通过复</tspan><tspan x="513" dy="13.2">习，将知识系统化、网络化，以利于知识的迁</tspan><tspan x="513" dy="13.2">移，这是学科能力、综合能力培养和提高的前</tspan><tspan x="513" dy="13.2">提。</tspan></text></g>
<g id="d4b" class="np"><rect x="508" y="3579" width="218.5" height="78" rx="4"/><text x="513" y="3595"><tspan x="513">第二轮：注重知识间的'纵横联系，帮助学生</tspan><tspan x="513" dy="13.2">构建知识网络，突破重、难点。培养学生获取</tspan><tspan x="513" dy="13.2">信息、分析、综合、探究的能力。强化学科用</tspan><tspan x="513" dy="13.2">语、规范用语。以专题复习为主，突出主干、</tspan><tspan x="513" dy="13.2">重点，查漏补缺，加强知识的综合。</tspan></text></g>
<g id="d4c" class="np"><rect x="508" y="3679" width="218.5" height="63.6" rx="4"/><text x="513" y="3694.4"><tspan x="513">第三轮：加强应试能力的强化训练，总结一、</tspan><tspan x="513" dy="13.2">二轮复习中存在的问题，尤其在学生答理综试</tspan><tspan x="513" dy="13.2">卷中所暴露出的缺陷，给学生以技巧的指导，</tspan><tspan x="513" dy="13.2">方法的指点。</tspan></text></g>
<g id="d5" class="np"><rect x="694" y="3907" width="124" height="24.5" rx="4"/><text x="699" y="3922.6">五、抓好复习的六个环节</text></g>
<g id="e1" class="np"><rect x="551" y="3766" width="123" height="23" rx="4"/><text x="556" y="3780.9">(1)读:预习课本,发现问题.</text></g>
<g id="e2" class="np"><rect x="456" y="3811.5" width="218" height="36.5" rx="4"/><text x="461" y="3826.5"><tspan x="461">(2)讲:按知识体系,梳理知识,形成网络,提炼生</tspan><tspan x="461" dy="13.2">物思想和方法,理清基本题型,讲清解题方法.</tspan></text></g>
<g id="e3" class="np"><rect x="456" y="3871" width="218" height="51" rx="4"/><text x="461" y="3886.7"><tspan x="461">(3)练:精选习题,学生训练,掌握知识,形成技能.</tspan><tspan x="461" dy="13.2">强调控制数量,讲求质量,不避陈题,特别是经典</tspan><tspan x="461" dy="13.2">题。</tspan></text></g>
<g id="e4" class="np"><rect x="485" y="3943.5" width="189" height="23.5" rx="4"/><text x="490" y="3958.7">(4)测:进行单元测试,定时练习,查漏补缺.</text></g>
<g id="e5" class="np"><rect x="506" y="3990" width="168" height="23" rx="4"/><text x="511" y="4004.9">(5)评:全批全改,统计问题,课堂讲评.</text></g>
<g id="e6" class="np"><rect x="456" y="4036" width="218" height="50" rx="4"/><text x="461" y="4051.2"><tspan x="461">(6)补:及时纠错,矫正练习,二次过关.对作业中</tspan><tspan x="461" dy="13.2">出现错误的学生一定抓好错误订正,错题再测</tspan><tspan x="461" dy="13.2">的工作,以提高复习的实际效果.</tspan></text></g>

<!-- 篇1 -->
<g id="f1" class="ny"><rect x="1541.6" y="413" width="72.2" height="23" rx="4"/><text x="1546.6" y="427.9">一、工作思路</text></g>
<g id="f1L" class="ny"><rect x="1634.5" y="392.6" width="218" height="64" rx="4"/><text x="1639.5" y="408.2"><tspan x="1639.5">以研究的心态对待生物学教学工作，注重对教</tspan><tspan x="1639.5" dy="13.2">学各个环节进行反思，通过集体备课，充分发</tspan><tspan x="1639.5" dy="13.2">挥集体的智慧，站在新课程改革的高度来重建</tspan><tspan x="1639.5" dy="13.2">符合素质教育的教学方式。</tspan></text></g>
<g id="f2" class="ny"><rect x="1541.6" y="585.7" width="83" height="22.3" rx="4"/><text x="1546.6" y="600.2">二、、工作任务</text></g>
<g id="f2a" class="ny"><rect x="1645" y="480" width="174" height="22.6" rx="4"/><text x="1650" y="494.7">1、 学习和掌握课程标准的全部内容</text></g>
<g id="f2b" class="ny"><rect x="1645" y="525" width="217.5" height="37.6" rx="4"/><text x="1650" y="540.6"><tspan x="1650">2、 按照课程标准及教学基本要求的规定，认</tspan><tspan x="1650" dy="13.2">真钻研教材</tspan></text></g>
<g id="f2c" class="ny"><rect x="1645" y="690.6" width="61" height="24" rx="4"/><text x="1650" y="706">具体要求：</text></g>
<g id="g1" class="ny"><rect x="1726.5" y="585" width="217.3" height="23" rx="4"/><text x="1731.5" y="599.9">①全面掌握高中生物课程的教学内容及其结构</text></g>
<g id="g2" class="ny"><rect x="1726.5" y="631" width="217.3" height="23" rx="4"/><text x="1731.5" y="645.9">②明确所教章节的内容在本学科中所处的地位</text></g>
<g id="g3" class="ny"><rect x="1726.5" y="676.5" width="217.3" height="36.5" rx="4"/><text x="1731.5" y="691.5"><tspan x="1731.5">③了解本章节的内容与其它章节及其它学科的</tspan><tspan x="1731.5" dy="13.2">关系</tspan></text></g>
<g id="g4" class="ny"><rect x="1726.5" y="736.6" width="217.3" height="36.4" rx="4"/><text x="1731.5" y="751.6"><tspan x="1731.5">④确定本章节教学的深度、广度，突出重点、</tspan><tspan x="1731.5" dy="13.2">难点问题的解决。</tspan></text></g>
<g id="g5" class="ny"><rect x="1726.5" y="796" width="113.5" height="22" rx="4"/><text x="1731.5" y="810.4">⑤制定有效的评价标准</text></g>
<g id="f3" class="ny"><rect x="1541.6" y="1325" width="73" height="22.5" rx="4"/><text x="1546.6" y="1339.7">三、具体安排</text></g>
<g id="h1" class="ny"><rect x="1633.7" y="843" width="41.3" height="22" rx="4"/><text x="1638.7" y="857.4">周别内</text></g>
<g id="h2" class="ny"><rect x="1633.7" y="888" width="218.7" height="49" rx="4"/><text x="1638.7" y="902.7"><tspan x="1638.7">1、 容第1—4周 （2、 11—3、 9） 1、 高一、</tspan><tspan x="1638.7" dy="13.2">高二学习普通高中新课程标准及新课程教学实</tspan><tspan x="1638.7" dy="13.2">施指导意见</tspan></text></g>
<g id="h3" class="ny"><rect x="1633.7" y="960" width="218.7" height="37.5" rx="4"/><text x="1638.7" y="975.6"><tspan x="1638.7">2、 各年段制定本学期教学进度，准备好所需</tspan><tspan x="1638.7" dy="13.2">的教具</tspan></text></g>
<g id="h4" class="ny"><rect x="1633.7" y="1020" width="218.7" height="103" rx="4"/><text x="1638.7" y="1035.3"><tspan x="1638.7">3、 高三年段分析总结上学期期末考情况， 进</tspan><tspan x="1638.7" dy="13.2">行切实有效的质量分析， 认真吸取经验教训，</tspan><tspan x="1638.7" dy="13.2">制定新的教学策略， 做好迎接第一轮省质检的</tspan><tspan x="1638.7" dy="13.2">准备 第5—8周 （3、 10—4、 6） 1、 组织召</tspan><tspan x="1638.7" dy="13.2">开第一轮省质检生物科质量分析会时间： 3月</tspan><tspan x="1638.7" dy="13.2">12日上午第二节地点： 高三办公室参加人员</tspan><tspan x="1638.7" dy="13.2">：</tspan></text></g>
<g id="h4a" class="ny"><rect x="1871.6" y="1060.6" width="103.4" height="22.4" rx="4"/><text x="1876.6" y="1075.2">所有高中教师主题：</text></g>
<g id="h5" class="ny"><rect x="1633.7" y="1147" width="203" height="21.6" rx="4"/><text x="1638.7" y="1161.2">1、 学生的答题情况分析及第二轮复习策略</text></g>
<g id="h6" class="ny"><rect x="1633.7" y="1192" width="218.7" height="50" rx="4"/><text x="1638.7" y="1207.2"><tspan x="1638.7">2、 高三年段认真学习《考试说明》，加强专</tspan><tspan x="1638.7" dy="13.2">题复习和综合训练， 提高应考能力， 为第二轮</tspan><tspan x="1638.7" dy="13.2">省质检做好准备</tspan></text></g>
<g id="h7" class="ny"><rect x="1633.7" y="1265" width="218.7" height="37" rx="4"/><text x="1638.7" y="1280.4"><tspan x="1638.7">3、 高一、 高二年段检查教学进度、 教学常规</tspan><tspan x="1638.7" dy="13.2">落实情况， 为期中考做好准备</tspan></text></g>
<g id="h8" class="ny"><rect x="1633.7" y="1323.7" width="218.7" height="78" rx="4"/><text x="1638.7" y="1339.7"><tspan x="1638.7">4、 加强校际交流和教学开放周的工作， 广泛</tspan><tspan x="1638.7" dy="13.2">听取意见， 取长补短第9—12周 （4、 7—5、</tspan><tspan x="1638.7" dy="13.2">4） 1、 组织召开第一轮省质检生物科质量分</tspan><tspan x="1638.7" dy="13.2">析会时间： 4月9日上午第二节地点： 高三办</tspan><tspan x="1638.7" dy="13.2">公室参加人员： 所有高中教师主题：</tspan></text></g>
<g id="h9" class="ny"><rect x="1633.7" y="1424.7" width="203" height="21.8" rx="4"/><text x="1638.7" y="1439">1、 学生的答题情况分析及下阶段复习策略</text></g>
<g id="h10" class="ny"><rect x="1633.7" y="1470" width="151.7" height="22.7" rx="4"/><text x="1638.7" y="1484.8">2、 高二年段组织生物实验考查</text></g>
<g id="h11" class="ny"><rect x="1633.7" y="1516" width="218.7" height="50" rx="4"/><text x="1638.7" y="1531.2"><tspan x="1638.7">3、 召开高一、 高二年段期中考质量分析会，</tspan><tspan x="1638.7" dy="13.2">总结经验教训， 充分发挥集体的智慧， 群策群</tspan><tspan x="1638.7" dy="13.2">力， 进一步提高教学质量</tspan></text></g>
<g id="h12" class="ny"><rect x="1633.7" y="1589" width="218.7" height="63" rx="4"/><text x="1638.7" y="1604.1"><tspan x="1638.7">4、 高三年段做好迎接市质检的准备第13—1</tspan><tspan x="1638.7" dy="13.2">6周 （5、 5—6、 1） 1、 组织召开第一轮省质</tspan><tspan x="1638.7" dy="13.2">检生物科质量分析会时间： 5月7日上午第二</tspan><tspan x="1638.7" dy="13.2">节地点： 高三办公室参加人员：</tspan></text></g>
<g id="h12a" class="ny"><rect x="1871.6" y="1609" width="103.4" height="22.6" rx="4"/><text x="1876.6" y="1623.7">所有高中教师主题：</text></g>
<g id="h13" class="ny"><rect x="1633.7" y="1675" width="218.7" height="36.6" rx="4"/><text x="1638.7" y="1690.1"><tspan x="1638.7">1、 学生的答题情况分析及最后阶段的考前辅</tspan><tspan x="1638.7" dy="13.2">导策略</tspan></text></g>
<g id="h14" class="ny"><rect x="1633.7" y="1734.8" width="218.7" height="36.2" rx="4"/><text x="1638.7" y="1749.7"><tspan x="1638.7">2、 高一、 高二年段检查教学进度、 教学常规</tspan><tspan x="1638.7" dy="13.2">落实情况</tspan></text></g>
<g id="h15" class="ny"><rect x="1633.7" y="1794.4" width="218.7" height="49.6" rx="4"/><text x="1638.7" y="1809.4"><tspan x="1638.7">3、 加强高考的考前指导及训练， 做好安抚工</tspan><tspan x="1638.7" dy="13.2">作第17—21周 （6、 2—7、 6） 1、 高一、 高</tspan><tspan x="1638.7" dy="13.2">二年段做好期末复习迎考工作</tspan></text></g>

<!-- 篇3 -->
<g id="k1" class="ng"><rect x="1542" y="1887.5" width="71.6" height="22.5" rx="4"/><text x="1547" y="1902.2">一、工作思路</text></g>
<g id="k1L" class="ng"><rect x="1634" y="1867" width="217.6" height="63" rx="4"/><text x="1639" y="1882.1"><tspan x="1639">以研究的心态对待生物学教学工作，注重对教</tspan><tspan x="1639" dy="13.2">学各个环节进行反思，并采用行动研究法，站</tspan><tspan x="1639" dy="13.2">在新课程改革的高度来重建符合素质教育的教</tspan><tspan x="1639" dy="13.2">学方式。</tspan></text></g>
<g id="k2" class="ng"><rect x="1542" y="1953.5" width="71.6" height="23" rx="4"/><text x="1547" y="1968.4">二、参与组员</text></g>
<g id="k2L" class="ng"><rect x="1634" y="1953.5" width="82" height="23" rx="4"/><text x="1639" y="1968.4">肖彦春、何伟静</text></g>
<g id="k3" class="ng"><rect x="1542" y="1999.4" width="51" height="23" rx="4"/><text x="1547" y="2014.3">三、时间</text></g>
<g id="k3L" class="ng"><rect x="1613.6" y="1999.4" width="71" height="23" rx="4"/><text x="1618.6" y="2014.3">每周周二上午</text></g>
<g id="k4" class="ng"><rect x="1542" y="2046.5" width="51" height="22" rx="4"/><text x="1547" y="2060.9">四、地点</text></g>
<g id="k4L" class="ng"><rect x="1613.6" y="2046.5" width="60.8" height="22" rx="4"/><text x="1618.6" y="2060.9">高三办公室</text></g>
<g id="k5" class="ng"><rect x="1542" y="2294.5" width="71.6" height="22" rx="4"/><text x="1547" y="2308.9">五、工作任务</text></g>
<g id="m1" class="ng"><rect x="1634" y="2091" width="217.6" height="50" rx="4"/><text x="1639" y="2106.2"><tspan x="1639">1.学习《生物新课程标准》，落实集体备课制</tspan><tspan x="1639" dy="13.2">度，进行课件、教学案例、习题等方面资料的</tspan><tspan x="1639" dy="13.2">积累和整理;</tspan></text></g>
<g id="m2" class="ng"><rect x="1634" y="2164" width="217.6" height="37.5" rx="4"/><text x="1639" y="2179.6"><tspan x="1639">2.研究会考和高考的方向，组织组员出好期中</tspan><tspan x="1639" dy="13.2">、期末考试试卷和模块考试试卷;</tspan></text></g>
<g id="m3" class="ng"><rect x="1634" y="2223" width="217.6" height="37" rx="4"/><text x="1639" y="2238.4"><tspan x="1639">3.落实公开课的开设，加强新老教师之间的交</tspan><tspan x="1639" dy="13.2">流与合作，促使教师的专业成长;</tspan></text></g>
<g id="m4" class="ng"><rect x="1634" y="2283" width="217.6" height="77.5" rx="4"/><text x="1639" y="2298.8"><tspan x="1639">4.结合我校生物教学实际情况和新课程改革中</tspan><tspan x="1639" dy="13.2">出现的实际问题，对我组的研究课题进行调整</tspan><tspan x="1639" dy="13.2">，积极贯彻学校关于"以课题规范科研，以科</tspan><tspan x="1639" dy="13.2">研指导教改，以教改促进教学"的教、研、改</tspan><tspan x="1639" dy="13.2">一条龙整体工作思路。</tspan></text></g>
<g id="m5" class="ng"><rect x="1634" y="2403.5" width="79" height="23" rx="4"/><text x="1639" y="2418.4">5、建立课件库</text></g>
<g id="m5L" class="ng"><rect x="1732" y="2383.5" width="218" height="63" rx="4"/><text x="1737" y="2398.6"><tspan x="1737">应科研室要求，从本学期第一节课开始，有意</tspan><tspan x="1737" dy="13.2">识积累教学课件，为建立课件库做准备。何伟</tspan><tspan x="1737" dy="13.2">静负责高二课件，肖彦春负责高三课件。最终</tspan><tspan x="1737" dy="13.2">进行编辑。</tspan></text></g>
<g id="m6" class="ng"><rect x="1634" y="2483" width="89" height="23" rx="4"/><text x="1639" y="2497.9">6、做好生物课题</text></g>
<g id="m6L" class="ng"><rect x="1742" y="2469" width="219" height="49" rx="4"/><text x="1747" y="2483.7"><tspan x="1747">本课题是《农村中学生物实验替代材料用具实</tspan><tspan x="1747" dy="13.2">践研究》做好实验课前准备的研讨及实际操作</tspan><tspan x="1747" dy="13.2">是本课题的必要前提</tspan></text></g>
<g id="k6" class="ng"><rect x="1542" y="2612" width="104.7" height="22" rx="4"/><text x="1547" y="2626.4">六、形式——研讨：</text></g>
<g id="n1" class="ng"><rect x="1667" y="2542" width="67.6" height="23" rx="4"/><text x="1672" y="2556.9">1、课程进度</text></g>
<g id="n2" class="ng"><rect x="1667" y="2588" width="98.7" height="23" rx="4"/><text x="1672" y="2602.9">2、每课时的重难点</text></g>
<g id="n3" class="ng"><rect x="1667" y="2634" width="88.6" height="23" rx="4"/><text x="1672" y="2648.9">3、相关实验分析</text></g>
<g id="n4" class="ng"><rect x="1667" y="2680" width="150.8" height="22.6" rx="4"/><text x="1672" y="2694.7">4、检测学案题选编、考试分析</text></g>

<!-- 篇5 -->
<g id="p0" class="nb"><rect x="1542" y="2726.7" width="218" height="102.7" rx="4"/><text x="1547" y="2741.9"><tspan x="1547">高中生物教研组是一个有朝气、团结协作、人</tspan><tspan x="1547" dy="13.2">人争先、后劲十足的集体，各项工作的开展比</tspan><tspan x="1547" dy="13.2">较顺利，在各个方面都取得了较好的成绩，但</tspan><tspan x="1547" dy="13.2">我们知道，随着教育教学改革的深入，我们的</tspan><tspan x="1547" dy="13.2">许多工作还得细化、强化、做实。五育融合，</tspan><tspan x="1547" dy="13.2">关爱每一个学生，努力提升每一个学生的科学</tspan><tspan x="1547" dy="13.2">素养，为祖国培养所需要的人才多做贡献。</tspan></text></g>
<g id="p1" class="nb"><rect x="1542" y="2900" width="124" height="23" rx="4"/><text x="1547" y="2914.9">一、本学期工作指导思想</text></g>
<g id="p1L" class="nb"><rect x="1686" y="2852.7" width="218" height="116.8" rx="4"/><text x="1691" y="2868.3"><tspan x="1691">根据学校教务处工作要点和学校创建特色高中</tspan><tspan x="1691" dy="13.2">要求，本学期教研组的教学工作将以"落实教</tspan><tspan x="1691" dy="13.2">学常规管理，确保教育教学质量，凸显学校特</tspan><tspan x="1691" dy="13.2">色发展"为核心抓手，落实常规工作的规范性</tspan><tspan x="1691" dy="13.2">，突出团结与协作；发挥教研组的特色，突出</tspan><tspan x="1691" dy="13.2">年轻教师的积极性。要求每人有目标，每人形</tspan><tspan x="1691" dy="13.2">成自己的特色。稳定、发展、提高是工作的目</tspan><tspan x="1691" dy="13.2">的，全面提升教学质量。</tspan></text></g>
<g id="p2" class="nb"><rect x="1542" y="3876.6" width="113" height="23.4" rx="4"/><text x="1547" y="3891.7">二、具体工作计划安排</text></g>
<g id="q1" class="nb"><rect x="1675" y="3108.6" width="172.5" height="22.8" rx="4"/><text x="1680" y="3123.4">1、强化教学常规，提升教学质量。</text></g>
<g id="q1a" class="nb"><rect x="1867.5" y="2992" width="217.5" height="51" rx="4"/><text x="1872.5" y="3007.7"><tspan x="1872.5">（1）钻研教材、精心设计、凸显个性、扎实</tspan><tspan x="1872.5" dy="13.2">有效、教学相长、精选精练、减负增效、分层</tspan><tspan x="1872.5" dy="13.2">辅导、提优补差、多元评价、激励提高。</tspan></text></g>
<g id="q1b" class="nb"><rect x="1867.5" y="3064.5" width="217.5" height="37" rx="4"/><text x="1872.5" y="3079.8"><tspan x="1872.5">（2）高度重视实验教学功能，营造良好实验</tspan><tspan x="1872.5" dy="13.2">教学氛围，确保实验教学有效展开。</tspan></text></g>
<g id="q1c" class="nb"><rect x="1867.5" y="3125" width="217.5" height="36.5" rx="4"/><text x="1872.5" y="3140.1"><tspan x="1872.5">（3）制定合理个人目标，发扬爱岗敬业的精</tspan><tspan x="1872.5" dy="13.2">神风貌，抓住机会，敢于挑战。</tspan></text></g>
<g id="q1d" class="nb"><rect x="1867.5" y="3183" width="217.5" height="78" rx="4"/><text x="1872.5" y="3199"><tspan x="1872.5">（4）重视中高考改革，深入优化适切学校实</tspan><tspan x="1872.5" dy="13.2">际的教学管理模式；认真学习新课程标准，探</tspan><tspan x="1872.5" dy="13.2">索确实有效的教学方法；认真研究现行高考3</tspan><tspan x="1872.5" dy="13.2">+3的特点，使之落实到平时的教育教学活动</tspan><tspan x="1872.5" dy="13.2">中，以提高课堂教学有效性。</tspan></text></g>
<g id="q2" class="nb"><rect x="1675" y="3626" width="161" height="22.7" rx="4"/><text x="1680" y="3640.8">2、凸显人文素养，构建特色课程</text></g>
<g id="q2a" class="nb"><rect x="1857" y="3611.4" width="217.6" height="50.6" rx="4"/><text x="1862" y="3626.9"><tspan x="1862">围绕学校的特色高中建设，继续探索和开展活</tspan><tspan x="1862" dy="13.2">动，打造生物学科特点，助推学校特色高中建</tspan><tspan x="1862" dy="13.2">设，具体做法如下：</tspan></text></g>
<g id="r1" class="nb"><rect x="2095" y="3283.6" width="217" height="76.4" rx="4"/><text x="2100" y="3298.8"><tspan x="2100">（1）基础性课程：注重收集，积极思考，在</tspan><tspan x="2100" dy="13.2">课堂教学中的情境导入、重难点突破、总结回</tspan><tspan x="2100" dy="13.2">顾等教学环节中，渗透与本节课的知识相关联</tspan><tspan x="2100" dy="13.2">的中华经典诗词或典故，提高学生兴趣，加深</tspan><tspan x="2100" dy="13.2">学习印象，又能传承经典文化。</tspan></text></g>
<g id="r2" class="nb"><rect x="2095" y="3383.5" width="217" height="49.5" rx="4"/><text x="2100" y="3398.2"><tspan x="2100">（2）研究型课程：依托分子生物和组织培养</tspan><tspan x="2100" dy="13.2">创新实验室，组织学生开展自主探究实验，培</tspan><tspan x="2100" dy="13.2">养学生勤于思考，创新实践等能力；</tspan></text></g>
<g id="r3" class="nb"><rect x="2095" y="3455.8" width="217" height="103.2" rx="4"/><text x="2100" y="3471.2"><tspan x="2100">（3）拓展课课程：依托创新实验室进行系列</tspan><tspan x="2100" dy="13.2">拓展型课程的开设，积极编写校本拓展型实验</tspan><tspan x="2100" dy="13.2">教材，开设生物拓展课：《中学生物学实验的</tspan><tspan x="2100" dy="13.2">拓展与创新》；开设生物兴趣小组，带领学生</tspan><tspan x="2100" dy="13.2">认识身边的植物，并给校园里的植物设计挂牌</tspan><tspan x="2100" dy="13.2">，与语文组合作，指导学生给植物配以一首唐</tspan><tspan x="2100" dy="13.2">诗或宋词，经典中创新。</tspan></text></g>
<g id="r3a" class="nb"><rect x="2333" y="3497" width="181.6" height="22" rx="4"/><text x="2338" y="3511.4">3、加强校本教研，促进教师专业发展</text></g>
<g id="r4" class="nb"><rect x="2095" y="3582" width="217" height="103" rx="4"/><text x="2100" y="3597.3"><tspan x="2100">（1）本学期高中生物教研组除了积极参与到</tspan><tspan x="2100" dy="13.2">学校的特色高中的创建之中，同时还要做好校</tspan><tspan x="2100" dy="13.2">本教材的开发和试题研究，精选精讲精练，不</tspan><tspan x="2100" dy="13.2">断提高课堂教学的有效性。此外，还要进行拓</tspan><tspan x="2100" dy="13.2">展课、合格考、等级考、学生学法等的研究工</tspan><tspan x="2100" dy="13.2">作，使高中生命科学组成为整体水平高、个人</tspan><tspan x="2100" dy="13.2">有特色的教研组。</tspan></text></g>
<g id="r5" class="nb"><rect x="2095" y="3708" width="217" height="63" rx="4"/><text x="2100" y="3723.1"><tspan x="2100">（2）生物教研组的备课组活动时间安排在每</tspan><tspan x="2100" dy="13.2">周四上午第二节课，地点1301，在教研组活</tspan><tspan x="2100" dy="13.2">动时间，深入开展教科研工作，并指导教学过</tspan><tspan x="2100" dy="13.2">程，带动全组教师的教科研意识。</tspan></text></g>
<g id="r6" class="nb"><rect x="2095" y="3795" width="217" height="103" rx="4"/><text x="2100" y="3810.3"><tspan x="2100">（3）深入开展教学研究活动，根据生物学科</tspan><tspan x="2100" dy="13.2">特点与学生情况，结合学校特色发展和提升教</tspan><tspan x="2100" dy="13.2">学质量等主要工作目标，制定教研组活动计划</tspan><tspan x="2100" dy="13.2">，落实工作内容。努力做到活动系列化、主题</tspan><tspan x="2100" dy="13.2">化。继续完善教研组和备课组考核制度，力求</tspan><tspan x="2100" dy="13.2">通过加强教研组、备课组建设来拓展教学内涵</tspan><tspan x="2100" dy="13.2">，提高教师专业化水平。</tspan></text></g>
<g id="r7" class="nb"><rect x="2095" y="3921" width="217" height="63.7" rx="4"/><text x="2100" y="3936.5"><tspan x="2100">（4）积极构建绿色质量体系，认真做好单元</tspan><tspan x="2100" dy="13.2">监测、期中抽测和期末考试工作，做到每次测</tspan><tspan x="2100" dy="13.2">试有目标、有重点、有分析、有反馈，推进学</tspan><tspan x="2100" dy="13.2">校教学质量稳步提升。</tspan></text></g>
<g id="q4" class="nb"><rect x="1675" y="4210" width="141.4" height="22.5" rx="4"/><text x="1680" y="4224.7">4、进一步完善实验室的管理</text></g>
<g id="s1" class="nb"><rect x="1836" y="4063.7" width="130" height="22.3" rx="4"/><text x="1841" y="4078.2">（1）提高实验室的开设率</text></g>
<g id="s1a" class="nb"><rect x="1986.5" y="4007" width="217.5" height="23" rx="4"/><text x="1991.5" y="4021.9">①凡是课程标准要求的实验一律开足、开齐。</text></g>
<g id="s1b" class="nb"><rect x="1986.5" y="4053.5" width="217.5" height="36.5" rx="4"/><text x="1991.5" y="4068.5"><tspan x="1991.5">②实验室利用课余时间对于有兴趣的学生开放</tspan><tspan x="1991.5" dy="13.2">，由学校派专人辅导、管理。</tspan></text></g>
<g id="s1c" class="nb"><rect x="1986.5" y="4112.6" width="217.5" height="36.4" rx="4"/><text x="1991.5" y="4127.6"><tspan x="1991.5">③原本在教室进行的演示实验改到实验室进行</tspan><tspan x="1991.5" dy="13.2">，教师加强对学生的管理。</tspan></text></g>
<g id="s2" class="nb"><rect x="1836" y="4241.8" width="130" height="22.2" rx="4"/><text x="1841" y="4256.3">（2）优化实验室环境建设</text></g>
<g id="s2a" class="nb"><rect x="1986.5" y="4172" width="102.5" height="23" rx="4"/><text x="1991.5" y="4186.9">①常规资料分类存放</text></g>
<g id="s2b" class="nb"><rect x="1986.5" y="4218.6" width="122" height="22.4" rx="4"/><text x="1991.5" y="4233.2">②实验资料"档案化"存放</text></g>
<g id="s2c" class="nb"><rect x="1986.5" y="4265" width="102.5" height="22" rx="4"/><text x="1991.5" y="4279.4">③仪器药品分类存放</text></g>
<g id="s2d" class="nb"><rect x="1986.5" y="4310.5" width="122" height="23.2" rx="4"/><text x="1991.5" y="4325.5">④绿化、美化实验室环境</text></g>
<g id="s3" class="nb"><rect x="1836" y="4356.5" width="141" height="22.5" rx="4"/><text x="1841" y="4371.2">（3）教师加强实验教学研究</text></g>
<g id="q6" class="nb"><rect x="1675" y="4644.7" width="141.4" height="22.8" rx="4"/><text x="1680" y="4659.5">6、各年级工作任务和目标：</text></g>
<g id="t1" class="nb"><rect x="1836" y="4402.4" width="218" height="117" rx="4"/><text x="1841" y="4418.1"><tspan x="1841">（1）高一年级：由俞俞、程中易、蔡秋实负</tspan><tspan x="1841" dy="13.2">责教学，俞俞老师是高一合格考备课组组长，</tspan><tspan x="1841" dy="13.2">以合格考工作为重点，以此巩固学生的学科素</tspan><tspan x="1841" dy="13.2">质，注重学习技巧的研究。同时加强学科的"</tspan><tspan x="1841" dy="13.2">兴趣、入门"教育，强化基础知识和基本技能</tspan><tspan x="1841" dy="13.2">的形成，适时进行学习方法和实验技能指导，</tspan><tspan x="1841" dy="13.2">并由蔡秋实和俞俞老师开设生物实验拓展型课</tspan><tspan x="1841" dy="13.2">程，为学生的选修打下坚实的学科知识基础。</tspan></text></g>
<g id="t2" class="nb"><rect x="1836" y="4541" width="218" height="77" rx="4"/><text x="1841" y="4556.5"><tspan x="1841">（2）高二年级：由霍丽瑞、蔡秋实负责教学</tspan><tspan x="1841" dy="13.2">，蔡秋实老师是高二生物等级考的备课组长，</tspan><tspan x="1841" dy="13.2">加强等级考研究，精讲精练，提高课堂教学的</tspan><tspan x="1841" dy="13.2">有效性，努力提高学生生物等级考成绩和生命</tspan><tspan x="1841" dy="13.2">科学素养。</tspan></text></g>
<g id="t2a" class="nb"><rect x="2074.6" y="4562" width="216.4" height="36" rx="4"/><text x="2079.6" y="4576.8"><tspan x="2079.6">具体工作：根据学校安排，适时进行教研活动</tspan><tspan x="2079.6" dy="13.2">，具体内容如下：</tspan></text></g>
<g id="t3" class="nb"><rect x="1836" y="4641" width="218" height="37" rx="4"/><text x="1841" y="4656.3"><tspan x="1841">（1）回顾上学期的教育教学成果，进行教学</tspan><tspan x="1841" dy="13.2">质量分析，制定教学计划。</tspan></text></g>
<g id="t4" class="nb"><rect x="1836" y="4700.5" width="218" height="37" rx="4"/><text x="1841" y="4715.8"><tspan x="1841">（2）讨论合格考、等级考改革后的教学有效</tspan><tspan x="1841" dy="13.2">性的提高与落实。</tspan></text></g>
<g id="t5" class="nb"><rect x="1836" y="4760" width="218" height="37" rx="4"/><text x="1841" y="4775.3"><tspan x="1841">（3）落实教学常规，作业的分层设计，进行</tspan><tspan x="1841" dy="13.2">课后反思。</tspan></text></g>
<g id="t6" class="nb"><rect x="1836" y="4832.8" width="218" height="36.7" rx="4"/><text x="1841" y="4848"><tspan x="1841">（4）教师相互听课，本学期组内的公开教学</tspan><tspan x="1841" dy="13.2">研讨活动。</tspan></text></g>
<g id="t6a" class="nb"><rect x="2074.6" y="4819.8" width="216.4" height="62.7" rx="4"/><text x="2079.6" y="4834.8"><tspan x="2079.6">另外，本组在上学期的基础上，围绕学校的特</tspan><tspan x="2079.6" dy="13.2">色高中建设，以"打造学科特色，助推学校发</tspan><tspan x="2079.6" dy="13.2">展"为主题，进行分阶段教研专题，继续讨论</tspan><tspan x="2079.6" dy="13.2">、探索和开展系列主题活动。</tspan></text></g>
</g>
</svg>
